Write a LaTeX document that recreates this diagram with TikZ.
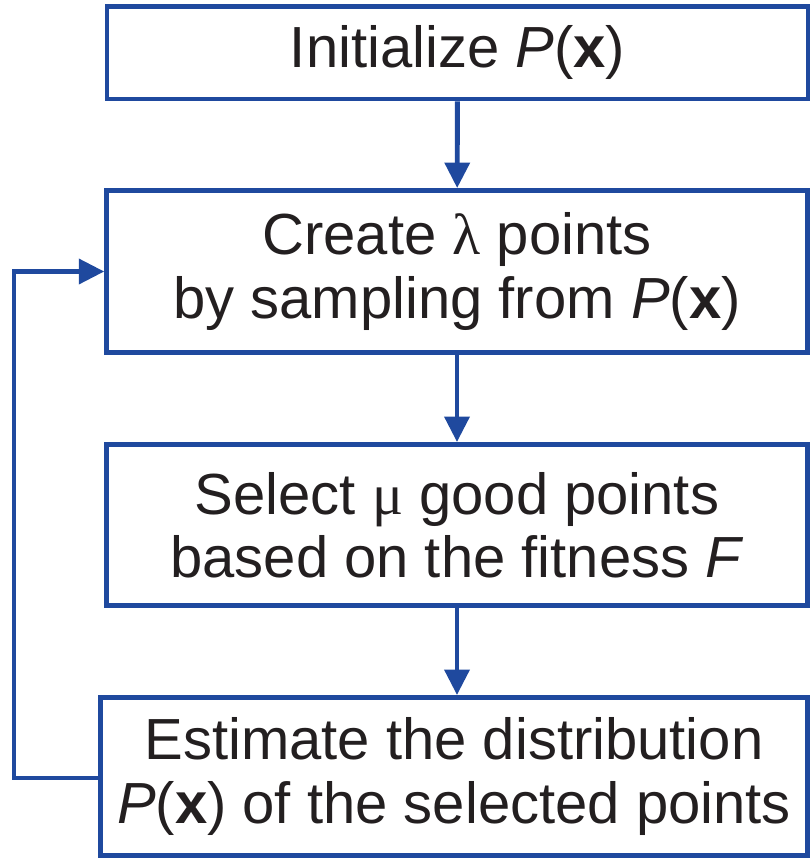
\documentclass[tikz,border=0pt]{standalone}
\usepackage{fontspec}
\setmainfont{Liberation Sans}
\newfontfamily\greekfont{Liberation Serif}
\usepackage{xcolor}
\usetikzlibrary{arrows.meta}
\definecolor{edablue}{RGB}{31,73,158}
\definecolor{edatext}{RGB}{35,31,32}
\tikzset{
  stage/.style={draw=edablue,line width=2.8pt,align=center,text=edatext,
    font=\fontsize{33}{36}\selectfont,inner sep=0pt},
  flow/.style={draw=edablue,line width=2.8pt,-{Triangle[length=14.5pt,width=14pt]}}
}

\begin{document}
\begin{tikzpicture}
  \useasboundingbox (0,0) rectangle (16.2,-17.16);
  \node[stage,minimum width=14.02cm,minimum height=1.85cm] at(9.15,-1.055)(init){Initialize \textit{P}(\textbf{x})};
  \node[stage,minimum width=14.01cm,minimum height=3.24cm] at(9.14,-5.43)(create){Create {\greekfont λ} points\\by sampling from \textit{P}(\textbf{x})};
  \node[stage,minimum width=14.01cm,minimum height=3.22cm] at(9.14,-10.5)(select){Select {\greekfont μ} good points\\based on the fitness \textit{F}};
  \node[stage,minimum width=14.14cm,minimum height=3.16cm] at(9.08,-15.53)(estimate){Estimate the distribution\\\textit{P}(\textbf{x}) of the selected points};
  \coordinate (back) at(.28,-15.56);
  \draw [flow](init) -- (create);
  \draw [flow](create.south) -- (create.south |- select.north);
  \draw [flow](select.south) -- (select.south |- estimate.north);
  \draw [flow](estimate.west |- back) -- (back) |- (create.west);
\end{tikzpicture}
\end{document}
